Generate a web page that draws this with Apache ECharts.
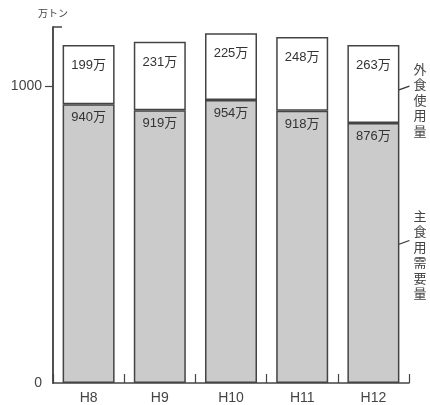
<!DOCTYPE html>
<html><head><meta charset="utf-8">
<script src="https://cdn.jsdelivr.net/npm/echarts@6/dist/echarts.min.js"></script>
<style>html,body{margin:0;padding:0;background:#fff}#c{width:430px;height:405px}</style>
</head><body><div id="c"></div>
<script>
const categories = ['H8', 'H9', 'H10', 'H11', 'H12'];
const staple = [940, 919, 954, 918, 876];     // 主食用需要量
const dining = [199, 231, 225, 248, 263];     // 外食使用量
const yLabelValues = [0, 1000];
const unitLabel = '万トン';
const annotations = [
  { cat: 'H12', value: 970, text: '外食使用量', textDy: -33 },
  { cat: 'H12', value: 450, text: '主食用需要量', textDy: -40 }
];

const FONT = "'Liberation Sans','Noto Sans CJK JP',sans-serif";
const INK = '#444';
const chart = echarts.init(document.getElementById('c'));
chart.setOption({
  animation: false,
  backgroundColor: '#fff',
  title: { text: unitLabel, left: 33, top: 4, textStyle: { fontSize: 10, fontWeight: 'normal', color: INK, fontFamily: FONT } },
  grid: { left: 53, right: 21, top: 27, bottom: 22 },
  xAxis: {
    type: 'category', data: categories,
    axisLine: { show: true, lineStyle: { color: INK, width: 1.5 } },
    axisTick: { show: true, inside: true, interval: 0, length: 9, lineStyle: { color: INK, width: 1.2 } },
    axisLabel: { color: INK, fontSize: 14, margin: 8, fontFamily: FONT }
  },
  yAxis: [{
    type: 'value', min: 0, max: 1200,
    axisLine: { show: true, lineStyle: { color: INK, width: 1.5 } },
    axisTick: { show: true, length: 8, customValues: [1000], lineStyle: { color: INK, width: 1.2 } },
    axisLabel: { customValues: yLabelValues, formatter: v => String(v), color: INK, fontSize: 14, margin: 11, fontFamily: FONT },
    splitLine: { show: false }
  }, {
    type: 'value', min: 0, max: 1200, position: 'left',
    axisLine: { show: true, lineStyle: { color: INK, width: 1.5 } },
    axisTick: { show: true, inside: true, length: 9, customValues: [1200], lineStyle: { color: INK, width: 1.5 } },
    axisLabel: { show: false },
    splitLine: { show: false }
  }],
  series: [{
    type: 'bar', stack: 'total', data: staple, barWidth: 52,
    itemStyle: { color: '#cbcbcb', borderColor: INK, borderWidth: 1.5 },
    label: { show: true, position: 'insideTop', distance: 7, formatter: '{c}万', color: '#333', fontSize: 13, fontFamily: FONT }
  }, {
    type: 'bar', stack: 'total', data: dining, barWidth: 52,
    itemStyle: { color: '#fff', borderColor: INK, borderWidth: 1.5 },
    label: { show: true, position: 'insideTop', distance: 14, formatter: '{c}万', color: '#333', fontSize: 13, fontFamily: FONT }
  }]
});

const graphics = [];
annotations.forEach(a => {
  const p = chart.convertToPixel({ xAxisIndex: 0, yAxisIndex: 0 }, [a.cat, a.value]);
  const sx = p[0] + 11, sy = p[1];
  graphics.push({ type: 'line', shape: { x1: sx, y1: sy, x2: sx + 25, y2: sy - 9 }, style: { stroke: '#333', lineWidth: 1.3 } });
  graphics.push({ type: 'text', x: 420, y: sy + a.textDy, style: {
    text: a.text.split('').join('\n'), fill: INK, fontSize: 13, lineHeight: 15.5,
    fontFamily: FONT, align: 'center', verticalAlign: 'top' } });
});
chart.setOption({ graphic: graphics });
</script></body></html>
